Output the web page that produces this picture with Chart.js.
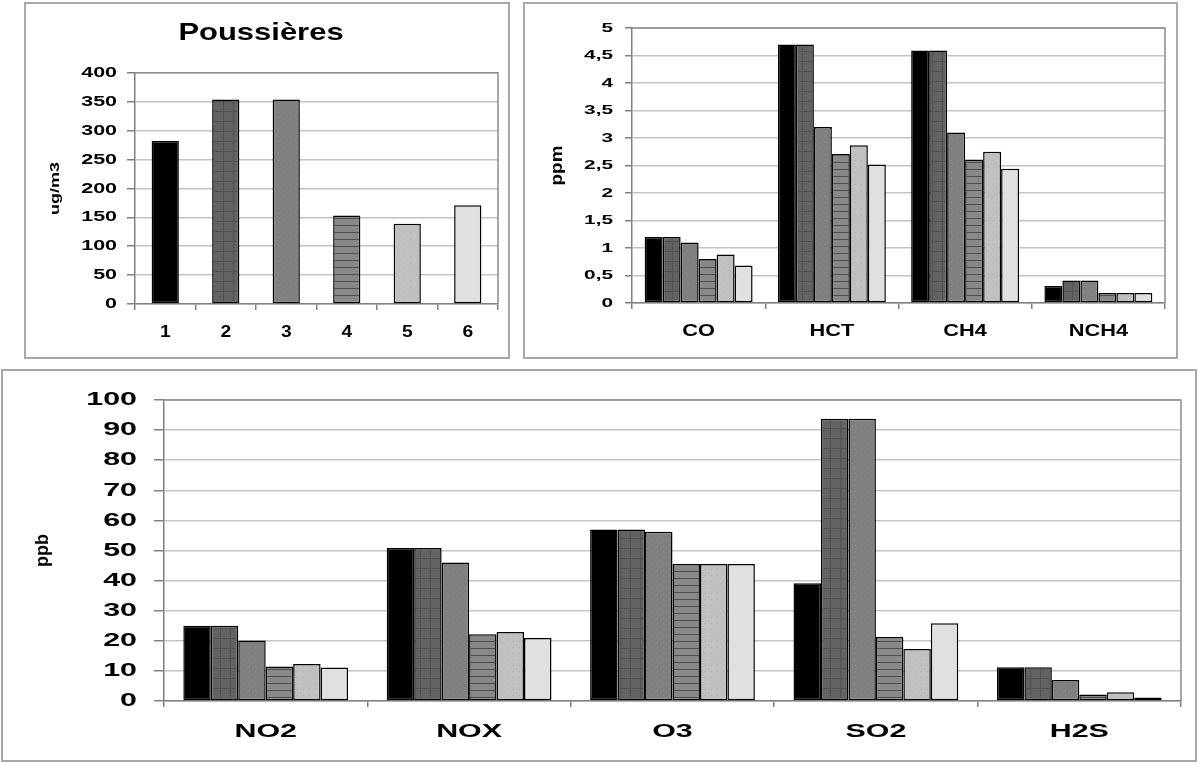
<!DOCTYPE html>
<html>
<head>
<meta charset="utf-8">
<script src="https://cdn.jsdelivr.net/npm/chart.js@4.4.1/dist/chart.umd.min.js"></script>
<style>
  html, body { margin: 0; padding: 0; background: #fff; }
  body { width: 1200px; height: 762px; position: relative; overflow: hidden; }
  canvas { position: absolute; }
  .box { position: absolute; border: 2px solid #a8a8a8; box-sizing: border-box; pointer-events: none; }
</style>
</head>
<body>
<canvas id="c1" width="485" height="356" style="left:24px;top:2px"></canvas>
<canvas id="c2" width="654" height="356" style="left:523px;top:2px"></canvas>
<canvas id="c3" width="1195" height="392" style="left:1px;top:369px"></canvas>
<div class="box" style="left:24px;top:2px;width:486px;height:357px"></div>
<div class="box" style="left:523px;top:2px;width:655px;height:357px"></div>
<div class="box" style="left:1px;top:369px;width:1196px;height:393px"></div>
<script>
// ---------- data ----------
const dustTitle = 'Poussières';
const dustUnit = 'ug/m3';
const dustLabels = ['1', '2', '3', '4', '5', '6'];
const dustValues = [282, 354, 354, 153, 139, 171];

const ppmUnit = 'ppm';
const ppmLabels = ['CO', 'HCT', 'CH4', 'NCH4'];
const ppmS1 = [1.20, 4.70, 4.59, 0.31];
const ppmS2 = [1.20, 4.70, 4.59, 0.41];
const ppmS3 = [1.10, 3.20, 3.10, 0.41];
const ppmS4 = [0.80, 2.71, 2.61, 0.18];
const ppmS5 = [0.88, 2.87, 2.75, 0.18];
const ppmS6 = [0.68, 2.52, 2.44, 0.18];

const ppbUnit = 'ppb';
const ppbLabels = ['NO2', 'NOX', 'O3', 'SO2', 'H2S'];
const ppbS1 = [25.0, 50.8, 57.0, 39.1, 11.2];
const ppbS2 = [25.0, 50.8, 57.0, 93.8, 11.2];
const ppbS3 = [20.1, 46.0, 56.2, 93.8, 7.0];
const ppbS4 = [11.5, 22.2, 45.5, 21.3, 2.2];
const ppbS5 = [12.3, 22.9, 45.5, 17.3, 2.9];
const ppbS6 = [11.1, 20.9, 45.5, 25.8, 1.2];

// ---------- fills ----------
function makePattern(w, h, draw) {
  const c = document.createElement('canvas');
  c.width = w; c.height = h;
  const g = c.getContext('2d');
  draw(g, w, h);
  return c.getContext('2d').createPattern(c, 'repeat');
}
const fill1 = '#000000';
const fill2 = makePattern(10, 10, (g, w, h) => {
  g.fillStyle = '#626262'; g.fillRect(0, 0, w, h);
  g.fillStyle = '#525252'; g.fillRect(0, 9, w, 1); g.fillRect(9, 0, 1, h);
});
const fill3 = makePattern(6, 6, (g, w, h) => {
  g.fillStyle = '#808080'; g.fillRect(0, 0, w, h);
  g.fillStyle = '#8c8c8c'; g.fillRect(2, 2, 1, 1);
});
const fill4 = makePattern(7, 7, (g, w, h) => {
  g.fillStyle = '#888888'; g.fillRect(0, 0, w, h);
  g.fillStyle = '#4e4e4e'; g.fillRect(0, 6, w, 1);
});
const fill5 = makePattern(6, 6, (g, w, h) => {
  g.fillStyle = '#c0c0c0'; g.fillRect(0, 0, w, h);
  g.fillStyle = '#b4b4b4'; g.fillRect(2, 2, 1, 1);
});
const fill6 = '#e0e0e0';
const fills = [fill1, fill2, fill3, fill4, fill5, fill6];

// ---------- helpers ----------
Chart.defaults.font.family = "'Liberation Sans', Arial, sans-serif";
Chart.defaults.font.weight = 'bold';
Chart.defaults.color = '#000';

function stretchPlugin(map) {
  return {
    id: 'stretchText',
    beforeInit(chart) {
      const ctx = chart.ctx;
      const orig = ctx.fillText;
      ctx.fillText = function (text, x, y) {
        const m = /([\d.]+)px/.exec(this.font);
        const k = (m && map[m[1]]) || 1;
        this.save();
        this.translate(x, y);
        this.scale(k, 1);
        orig.call(this, text, 0, 0);
        this.restore();
      };
    }
  };
}
const frame = {
  id: 'plotFrame',
  beforeDatasetsDraw(chart) {
    const a = chart.chartArea, ctx = chart.ctx;
    ctx.save();
    ctx.strokeStyle = '#8c8c8c';
    ctx.lineWidth = 1.5;
    ctx.beginPath();
    ctx.moveTo(a.left, a.top); ctx.lineTo(a.right, a.top); ctx.lineTo(a.right, a.bottom);
    ctx.stroke();
    ctx.restore();
  }
};

function axes(o) {
  return {
    x: {
      afterFit: s => { s.height = o.xh; },
      grid: { drawOnChartArea: false, offset: true, tickLength: 6, tickColor: '#808080', lineWidth: 1.5 },
      border: { color: '#808080', width: 1.5 },
      ticks: { padding: o.xpad, font: { size: o.xfont }, autoSkip: false, maxRotation: 0 }
    },
    y: {
      min: 0, max: o.max,
      afterFit: s => { s.width = o.yw; },
      grid: { color: '#c4c4c4', lineWidth: 1.5, tickLength: o.tl, tickColor: '#808080' },
      border: { color: '#808080', width: 1.5 },
      ticks: { stepSize: o.step, padding: o.ypad, font: { size: o.yfont }, callback: o.fmt || (v => String(v)) },
      title: { display: true, text: o.unit, font: { size: o.tfont }, padding: { top: o.tpad, bottom: 0 } }
    }
  };
}

function seriesSets(arrs, catPct) {
  return arrs.map((d, i) => ({
    data: d,
    backgroundColor: fills[i],
    borderColor: '#000',
    borderWidth: 1.5,
    borderSkipped: false,
    categoryPercentage: catPct,
    barPercentage: 1
  }));
}

// ---------- chart 1 ----------
new Chart(document.getElementById('c1'), {
  type: 'bar',
  data: {
    labels: dustLabels,
    datasets: [{
      data: dustValues,
      backgroundColor: fills,
      borderColor: '#000',
      borderWidth: 1.5,
      borderSkipped: false,
      categoryPercentage: 1,
      barPercentage: 0.45
    }]
  },
  options: {
    responsive: false, animation: false,
    layout: { padding: { left: 0, right: 11, top: 0, bottom: 0 } },
    plugins: {
      legend: { display: false }, tooltip: { enabled: false },
      title: { display: true, text: dustTitle, font: { size: 24 }, padding: { top: 17, bottom: 25 } }
    },
    scales: axes({ xh: 54, xpad: 13, xfont: 16, max: 400, yw: 111, tl: 8, step: 50, ypad: 10, yfont: 15,
                   unit: dustUnit, tfont: 12, tpad: 24 })
  },
  plugins: [frame, stretchPlugin({ '24': 1.29, '15': 1.43, '16': 1.2, '12': 1.5 })]
});

// ---------- chart 2 ----------
new Chart(document.getElementById('c2'), {
  type: 'bar',
  data: {
    labels: ppmLabels,
    datasets: seriesSets([ppmS1, ppmS2, ppmS3, ppmS4, ppmS5, ppmS6], 0.81)
  },
  options: {
    responsive: false, animation: false,
    layout: { padding: { left: 0, right: 12, top: 26, bottom: 0 } },
    plugins: { legend: { display: false }, tooltip: { enabled: false } },
    scales: axes({ xh: 55, xpad: 12, xfont: 17, max: 5, yw: 109, tl: 7, step: 0.5, ypad: 12, yfont: 13,
                   unit: ppmUnit, tfont: 16, tpad: 25, fmt: v => String(v).replace('.', ',') })
  },
  plugins: [frame, stretchPlugin({ '13': 1.6, '17': 1.28, '16': 1.18 })]
});

// ---------- chart 3 ----------
new Chart(document.getElementById('c3'), {
  type: 'bar',
  data: {
    labels: ppbLabels,
    datasets: seriesSets([ppbS1, ppbS2, ppbS3, ppbS4, ppbS5, ppbS6], 0.81)
  },
  options: {
    responsive: false, animation: false,
    layout: { padding: { left: 0, right: 15, top: 31, bottom: 0 } },
    plugins: { legend: { display: false }, tooltip: { enabled: false } },
    scales: axes({ xh: 60, xpad: 13, xfont: 19, max: 100, yw: 163, tl: 10, step: 10, ypad: 17, yfont: 19,
                   unit: ppbUnit, tfont: 18, tpad: 31 })
  },
  plugins: [frame, stretchPlugin({ '19': 1.6, '18': 1.0 })]
});
</script>
</body>
</html>
